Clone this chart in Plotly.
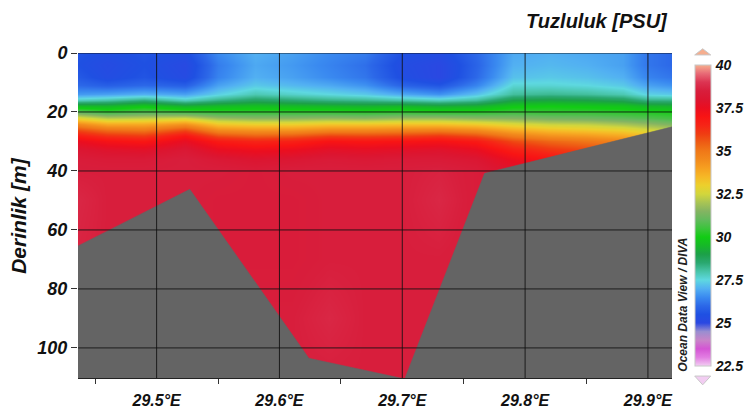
import numpy as np
import plotly.graph_objects as go

# ---------------- data ----------------
station_lon = [29.436, 29.46, 29.49, 29.523, 29.55, 29.58, 29.61, 29.64, 29.67,
               29.70, 29.73, 29.76, 29.79, 29.82, 29.85, 29.88, 29.90, 29.92]
depth_levels = [0, 4, 8, 11, 14, 16, 18, 20, 22, 24, 26, 28, 30, 33, 36, 40, 50, 70, 90, 110]

# salinity profiles (PSU), one per station, values at depth_levels
s01 = [25.6, 25.5, 25.7, 26.0, 26.7, 27.8, 29.6, 31.0, 32.8, 34.5, 35.8, 36.8, 37.5, 38.1, 38.4, 38.5, 38.7, 38.6, 38.5, 38.5]
s02 = [25.4, 25.2, 25.3, 25.8, 26.8, 28.0, 29.5, 30.5, 32.2, 33.8, 35.2, 36.3, 37.1, 37.9, 38.3, 38.5, 38.5, 38.5, 38.5, 38.5]
s03 = [25.6, 25.5, 25.6, 26.0, 27.0, 28.4, 29.9, 30.8, 32.3, 33.8, 35.0, 36.1, 36.9, 37.8, 38.3, 38.5, 38.5, 38.5, 38.5, 38.5]
s04 = [25.4, 25.1, 25.2, 25.8, 26.8, 27.8, 29.4, 30.6, 32.5, 34.3, 35.8, 37.0, 37.6, 38.2, 38.5, 38.5, 38.5, 38.5, 38.5, 38.5]
s05 = [26.5, 26.3, 26.4, 26.8, 27.4, 28.3, 29.6, 30.4, 31.8, 33.2, 34.5, 35.8, 36.8, 37.6, 38.2, 38.5, 38.4, 38.4, 38.5, 38.5]
s06 = [27.0, 26.9, 27.0, 27.3, 27.9, 28.7, 29.7, 30.4, 31.6, 33.0, 34.3, 35.5, 36.5, 37.4, 38.0, 38.4, 38.4, 38.4, 38.5, 38.5]
s07 = [26.8, 26.7, 26.8, 27.1, 27.7, 28.5, 29.6, 30.4, 31.6, 33.0, 34.3, 35.6, 36.6, 37.5, 38.1, 38.5, 38.4, 38.4, 38.5, 38.5]
s08 = [26.5, 26.4, 26.5, 26.9, 27.5, 28.3, 29.5, 30.4, 31.7, 33.2, 34.6, 36.0, 37.0, 37.8, 38.3, 38.5, 38.5, 38.5, 38.7, 38.5]
s09 = [26.3, 26.1, 26.2, 26.6, 27.3, 28.2, 29.4, 30.3, 31.6, 33.2, 34.6, 35.9, 36.9, 37.7, 38.2, 38.5, 38.5, 38.5, 38.5, 38.5]
s10 = [25.5, 25.3, 25.4, 25.9, 26.9, 28.0, 29.5, 30.4, 31.8, 33.3, 34.7, 36.0, 37.0, 37.8, 38.3, 38.5, 38.5, 38.5, 38.5, 38.5]
s11 = [25.3, 25.0, 25.0, 25.6, 26.6, 27.8, 29.3, 30.3, 31.8, 33.3, 34.8, 36.2, 37.1, 37.9, 38.3, 38.6, 38.7, 38.5, 38.5, 38.5]
s12 = [26.0, 25.9, 26.0, 26.4, 27.2, 28.1, 29.4, 30.3, 31.6, 33.1, 34.5, 35.8, 36.8, 37.6, 38.1, 38.4, 38.4, 38.4, 38.4, 38.4]
s13 = [26.9, 27.0, 27.2, 27.6, 28.1, 29.0, 29.9, 30.5, 31.5, 32.7, 33.8, 34.9, 35.8, 36.7, 37.4, 37.9, 38.0, 38.0, 38.0, 38.0]
s14 = [27.0, 27.1, 27.3, 27.6, 28.2, 29.1, 30.0, 30.4, 31.3, 32.4, 33.4, 34.4, 35.3, 36.2, 37.0, 37.5, 37.8, 37.8, 37.8, 37.8]
s15 = [26.9, 27.0, 27.2, 27.5, 28.1, 29.0, 29.9, 30.4, 31.2, 32.3, 33.2, 34.2, 35.0, 35.9, 36.6, 37.2, 37.5, 37.5, 37.5, 37.5]
s16 = [26.8, 26.8, 27.0, 27.3, 27.9, 28.8, 29.8, 30.3, 31.0, 32.0, 33.0, 33.9, 34.7, 35.5, 36.2, 36.8, 37.2, 37.2, 37.2, 37.2]
s17 = [26.2, 26.2, 26.4, 26.8, 27.4, 28.3, 29.5, 30.2, 30.8, 31.7, 32.6, 33.5, 34.3, 35.1, 35.8, 36.4, 37.0, 37.0, 37.0, 37.0]
s18 = [26.0, 26.0, 26.2, 26.6, 27.3, 28.3, 29.4, 30.1, 30.6, 31.4, 32.3, 33.2, 34.0, 34.8, 35.5, 36.0, 36.8, 36.8, 36.8, 36.8]

# sea-floor outline along the section
bottom_lon = [29.436, 29.527, 29.624, 29.702, 29.767, 29.92]
bottom_depth = [65.4, 46.2, 103.5, 110.5, 40.8, 25.0]

x_ticks = [29.5, 29.6, 29.7, 29.8, 29.9]
x_ticktext = ["29.5°E", "29.6°E", "29.7°E", "29.8°E", "29.9°E"]
x_minor = [29.45, 29.55, 29.65, 29.75, 29.85]
y_ticks = [0, 20, 40, 60, 80, 100]
cb_ticks = [22.5, 25, 27.5, 30, 32.5, 35, 37.5, 40]
cb_ticktext = ["22.5", "25", "27.5", "30", "32.5", "35", "37.5", "40"]

# ODV-like palette
pal_vals = [22.5, 23.0, 23.5, 24.0, 24.5, 25.0, 25.5, 26.0, 26.5, 27.0, 27.5, 28.0, 28.5, 29.0,
            29.5, 30.0, 30.5, 31.0, 31.5, 32.0, 32.5, 33.0, 33.5, 34.0, 34.5, 35.0, 35.5, 36.0,
            36.5, 37.0, 37.5, 38.0, 38.5, 39.0, 39.5, 40.0]
pal_cols = ["#f2cdf2", "#e27ee2", "#d455d4", "#c884c8", "#9a8ed0", "#2a48e2", "#1f50e2", "#2c68e8",
            "#3a8af0", "#52b0f2", "#5ed8e0", "#48c4a8", "#2aa870", "#1ca048", "#16b828", "#12cc14",
            "#3cc43c", "#62ba5c", "#84b462", "#a8c454", "#d2d63c", "#ecd02c", "#f6b826", "#f6a020",
            "#f28a1c", "#f07818", "#ee5c14", "#f03c12", "#f62416", "#f81414", "#ea0e20", "#dc1530",
            "#d81e3c", "#dc3452", "#e86a76", "#f6ae8e"]

ZMIN, ZMAX = 22.5, 40.0
XR = [29.436, 29.9196]
YR = [110.2, 0]

colorscale = [[(v - ZMIN) / (ZMAX - ZMIN), c] for v, c in zip(pal_vals, pal_cols)]
z = np.column_stack([s01, s02, s03, s04, s05, s06, s07, s08, s09,
                     s10, s11, s12, s13, s14, s15, s16, s17, s18])

FONT = "Liberation Sans, Arial, sans-serif"

fig = go.Figure()
fig.add_trace(go.Heatmap(
    x=station_lon, y=depth_levels, z=z, zsmooth="best",
    zmin=ZMIN, zmax=ZMAX, colorscale=colorscale, hoverinfo="skip",
    colorbar=dict(
        x=1.038, xanchor="left", xpad=0, y=0.5, yanchor="middle",
        len=0.988, thickness=16, outlinewidth=1, outlinecolor="#c8c8c8",
        tickmode="array", tickvals=cb_ticks, ticktext=cb_ticktext,
        ticks="outside", ticklen=2, tickcolor="rgba(0,0,0,0)",
        tickfont=dict(family=FONT, size=14, color="#111", weight="bold", style="italic"),
    ),
))

# sea floor (grey)
poly_x = bottom_lon + [bottom_lon[-1], bottom_lon[0]]
poly_y = bottom_depth + [YR[0] + 5, YR[0] + 5]
fig.add_trace(go.Scatter(x=poly_x, y=poly_y, mode="lines", fill="toself",
                         fillcolor="#646464", line=dict(color="#646464", width=0.5),
                         hoverinfo="skip", showlegend=False))

shapes = []
for xv in x_ticks:
    shapes.append(dict(type="line", xref="x", yref="paper", x0=xv, x1=xv, y0=0, y1=1,
                       line=dict(color="rgba(15,15,15,0.85)", width=1), layer="above"))
for yv in y_ticks:
    shapes.append(dict(type="line", xref="paper", yref="y", x0=0, x1=1, y0=yv, y1=yv,
                       line=dict(color="rgba(15,15,15,0.85)", width=1), layer="above"))
# colourbar end triangles
shapes.append(dict(type="path", xref="paper", yref="paper",
                   path="M 1.0382 0.994 L 1.0652 0.994 L 1.0517 1.013 Z",
                   fillcolor="#f6ae8e", line=dict(color="#c8c8c8", width=1), layer="above"))
shapes.append(dict(type="path", xref="paper", yref="paper",
                   path="M 1.0382 0.006 L 1.0652 0.006 L 1.0517 -0.021 Z",
                   fillcolor="#f2cdf2", line=dict(color="#c8c8c8", width=1), layer="above"))

fig.update_layout(
    width=745, height=417,
    margin=dict(l=78, r=73, t=53, b=39, autoexpand=False),
    paper_bgcolor="white", plot_bgcolor="white",
    showlegend=False,
    shapes=shapes,
    xaxis=dict(range=XR, showgrid=False, zeroline=False, automargin=False,
               tickmode="array", tickvals=x_ticks, ticktext=x_ticktext,
               ticks="outside", ticklen=8, tickcolor="rgba(0,0,0,0)",
               minor=dict(tickmode="array", tickvals=x_minor, ticks="outside",
                          ticklen=5, tickcolor="#333", tickwidth=1, showgrid=False),
               showline=True, linecolor="#222", linewidth=1,
               tickfont=dict(family=FONT, size=16, color="#111", weight="bold", style="italic")),
    yaxis=dict(range=YR, showgrid=False, zeroline=False, automargin=False,
               tickmode="array", tickvals=y_ticks,
               ticks="outside", ticklen=6, tickcolor="#333", tickwidth=1,
               showline=False,
               tickfont=dict(family=FONT, size=18, color="#111", weight="bold", style="italic")),
    annotations=[
        dict(text="Tuzluluk [PSU]", xref="paper", yref="paper", x=0.997, y=1.098,
             xanchor="right", yanchor="middle", showarrow=False,
             font=dict(family=FONT, size=20, color="#111", weight="bold", style="italic")),
        dict(text="Derinlik [m]", xref="paper", yref="paper", x=-0.1005, y=0.5,
             xanchor="center", yanchor="middle", textangle=-90, showarrow=False,
             font=dict(family=FONT, size=21, color="#111", weight="bold", style="italic")),
        dict(text="Ocean Data View / DIVA", xref="paper", yref="paper", x=1.018, y=0.2246,
             xanchor="center", yanchor="middle", textangle=-90, showarrow=False,
             font=dict(family=FONT, size=12, color="#222", weight="bold", style="italic")),
    ],
)

fig.write_html("out.html",
               config={"displayModeBar": False},
               post_script="document.body.style.margin='0';document.body.style.overflow='hidden';")
